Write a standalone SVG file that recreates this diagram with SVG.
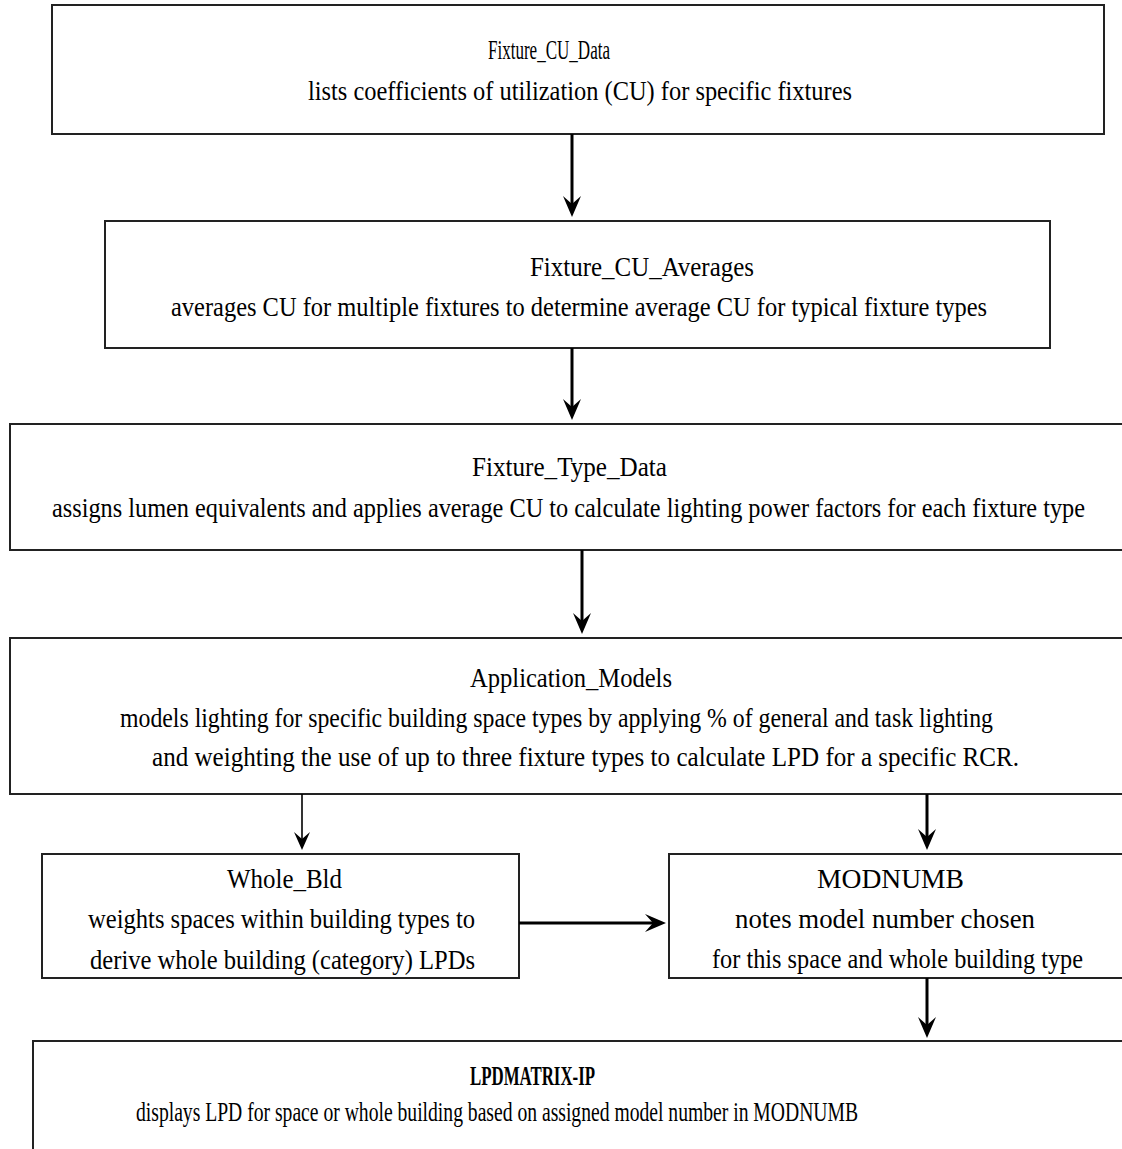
<svg xmlns="http://www.w3.org/2000/svg" width="1122" height="1149" viewBox="0 0 1122 1149">
<style>
.box{fill:#fff;stroke:#222;stroke-width:2}
.t{font-family:"Liberation Serif","Times New Roman",serif;font-size:28px;fill:#000;text-anchor:start}
.b{font-weight:bold}
.c{stroke:#000;stroke-width:3;fill:none}
.thin{stroke:#000;stroke-width:1.6;fill:none}
</style>
<defs>
<marker id="ah" markerUnits="userSpaceOnUse" markerWidth="30" markerHeight="30" viewBox="-15 -15 30 30" refX="0" refY="0" orient="auto">
<path d="M8,0 L-13,-9 L-5,0 L-13,9 Z" fill="#000"/>
</marker>
<marker id="ahs" markerUnits="userSpaceOnUse" markerWidth="30" markerHeight="30" viewBox="-15 -15 30 30" refX="0" refY="0" orient="auto">
<path d="M6,0 L-12,-8 L-5,0 L-12,8 Z" fill="#000"/>
</marker>
</defs>
<rect width="1122" height="1149" fill="#fff"/>
<g id="fixture_cu_data">
<rect class="box" x="52" y="5" width="1052" height="129"/>
<text class="t" x="488" y="59" textLength="122" lengthAdjust="spacingAndGlyphs">Fixture_CU_Data</text>
<text class="t" x="308" y="100" textLength="544" lengthAdjust="spacingAndGlyphs">lists coefficients of utilization (CU) for specific fixtures</text>
</g>
<g id="fixture_cu_averages">
<rect class="box" x="105" y="221" width="945" height="127"/>
<text class="t" x="530" y="276" textLength="224" lengthAdjust="spacingAndGlyphs">Fixture_CU_Averages</text>
<text class="t" x="171" y="316" textLength="816" lengthAdjust="spacingAndGlyphs">averages CU for multiple fixtures to determine average CU for typical fixture types</text>
</g>
<g id="fixture_type_data">
<path class="box" d="M1122,424 H10 V550 H1122"/>
<text class="t" x="472" y="476" textLength="195" lengthAdjust="spacingAndGlyphs">Fixture_Type_Data</text>
<text class="t" x="52" y="517" textLength="1033" lengthAdjust="spacingAndGlyphs">assigns lumen equivalents and applies average CU to calculate lighting power factors for each fixture type</text>
</g>
<g id="application_models">
<path class="box" d="M1122,638 H10 V794 H1122"/>
<text class="t" x="470" y="687" textLength="202" lengthAdjust="spacingAndGlyphs">Application_Models</text>
<text class="t" x="120" y="727" textLength="873" lengthAdjust="spacingAndGlyphs">models lighting for specific building space types by applying % of general and task lighting</text>
<text class="t" x="152" y="766" textLength="867" lengthAdjust="spacingAndGlyphs">and weighting the use of up to three fixture types to calculate LPD for a specific RCR.</text>
</g>
<g id="whole_bld">
<rect class="box" x="42" y="854" width="477" height="124"/>
<text class="t" x="227" y="888" textLength="115" lengthAdjust="spacingAndGlyphs">Whole_Bld</text>
<text class="t" x="88" y="928" textLength="387" lengthAdjust="spacingAndGlyphs">weights spaces within building types to</text>
<text class="t" x="90" y="969" textLength="385" lengthAdjust="spacingAndGlyphs">derive whole building (category) LPDs</text>
</g>
<g id="modnumb">
<path class="box" d="M1122,854 H669 V978 H1122"/>
<text class="t" x="817" y="888" textLength="147" lengthAdjust="spacingAndGlyphs">MODNUMB</text>
<text class="t" x="735" y="928" textLength="300" lengthAdjust="spacingAndGlyphs">notes model number chosen</text>
<text class="t" x="712" y="968" textLength="371" lengthAdjust="spacingAndGlyphs">for this space and whole building type</text>
</g>
<g id="lpdmatrix_ip">
<path class="box" d="M1122,1041 H33 V1149"/>
<text class="t b" x="470" y="1085" textLength="125" lengthAdjust="spacingAndGlyphs">LPDMATRIX-IP</text>
<text class="t" x="136" y="1121" textLength="722" lengthAdjust="spacingAndGlyphs">displays LPD for space or whole building based on assigned model number in MODNUMB</text>
</g>
<g id="connectors">
<line class="c" x1="572" y1="134" x2="572" y2="209" marker-end="url(#ah)"/>
<line class="c" x1="572" y1="348" x2="572" y2="412" marker-end="url(#ah)"/>
<line class="c" x1="582" y1="550" x2="582" y2="626" marker-end="url(#ah)"/>
<line class="thin" x1="302" y1="794" x2="302" y2="844" marker-end="url(#ahs)"/>
<line class="c" x1="927" y1="794" x2="927" y2="842" marker-end="url(#ah)"/>
<line class="c" x1="519" y1="923" x2="658" y2="923" marker-end="url(#ah)"/>
<line class="c" x1="927" y1="978" x2="927" y2="1030" marker-end="url(#ah)"/>
</g>
</svg>
